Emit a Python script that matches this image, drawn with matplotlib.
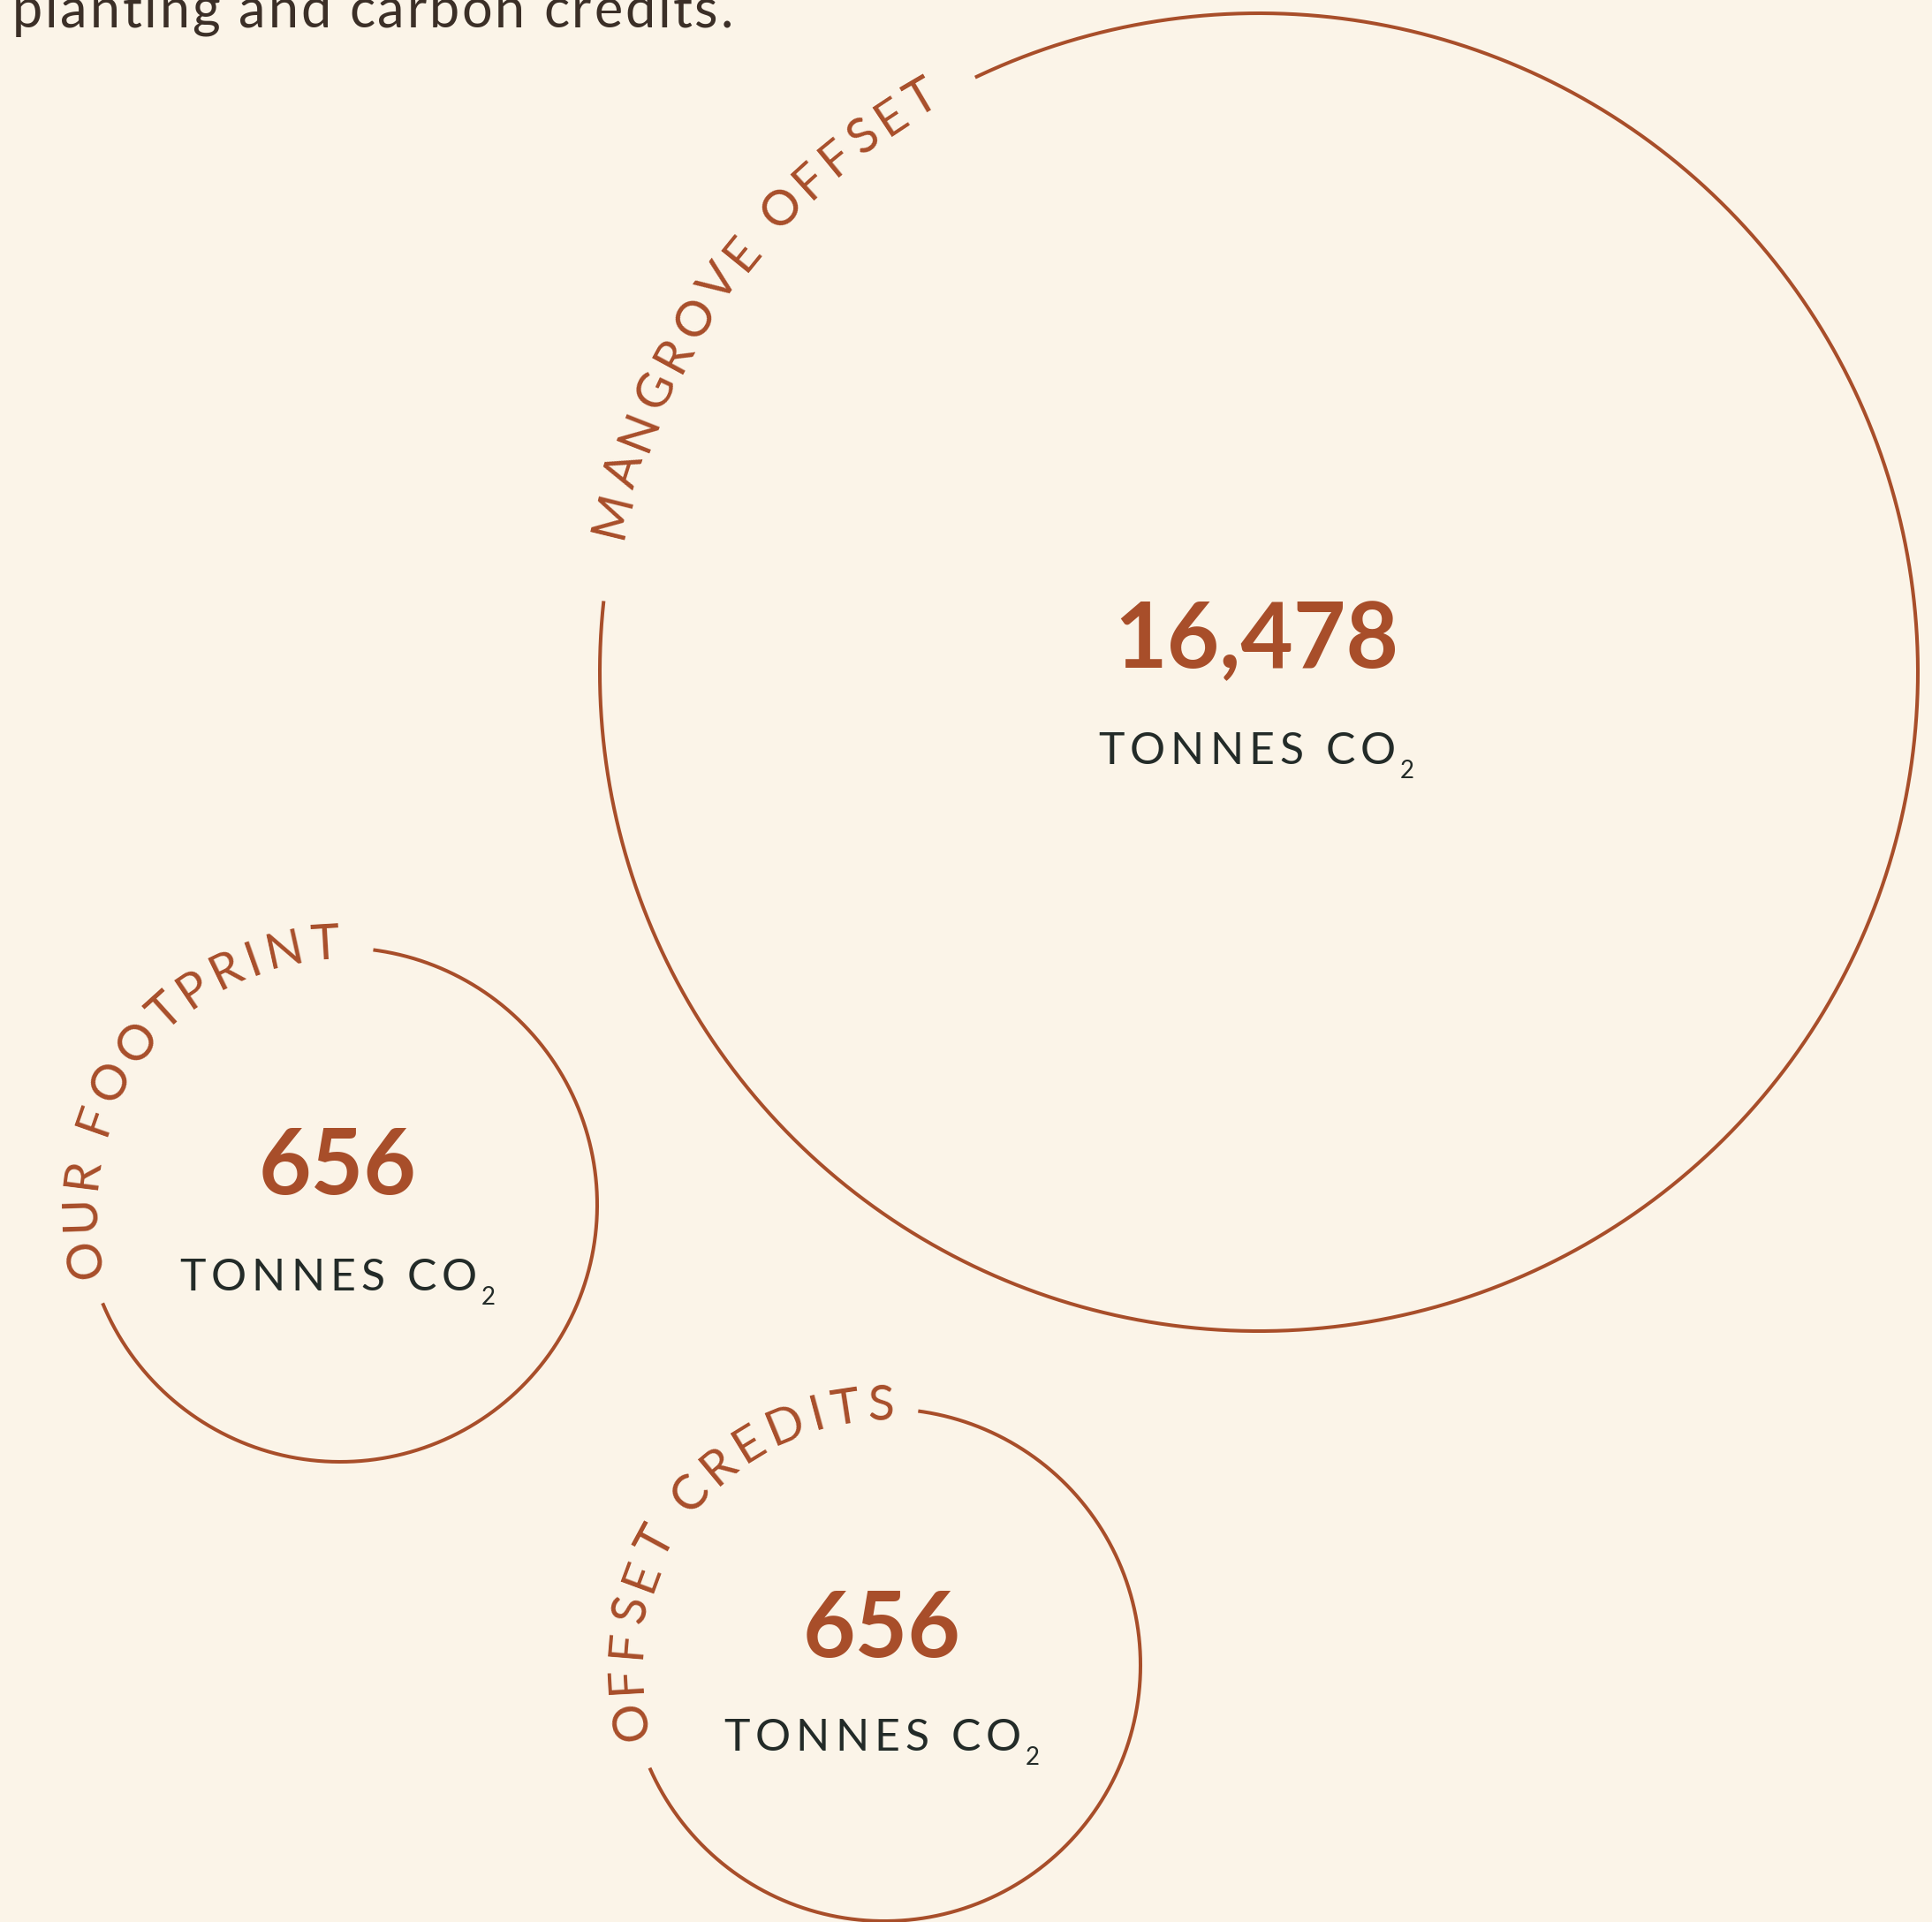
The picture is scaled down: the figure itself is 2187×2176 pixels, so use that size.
import numpy as np
import matplotlib
matplotlib.use('Agg')
import matplotlib.pyplot as plt
from matplotlib.font_manager import FontProperties
from matplotlib.textpath import text_to_path

W, H = 2187, 2176
DPI = 100
PX = DPI / 72.0  # pixels per point

BG = '#fbf4e8'
RUST = '#a84e2a'
INK = '#232b28'
BODY = '#3b2f27'

# data
labels = ['MANGROVE OFFSET', 'OUR FOOTPRINT', 'OFFSET CREDITS']
values = [16478, 656, 656]
unit = 'TONNES CO'
unit_sub = '2'
intro_line = 'planting and carbon credits.'

# layout, pixels with y measured from the top
centers_x = [1425, 385, 1001]
centers_y = [761, 1364, 1885]
radii = [746, 291, 290]
gap_from = [115.5, 82.6, 82.4]     # degrees, ccw from +x
gap_to = [173.8, 202.5, 203.7]
text_start = [168.3, 196.4, 197.0]
text_end = [119.2, 90.0, 87.6]
base_inset = [9, 13, 13]
num_dy = [-5, -12, -9]
unit_dy = [104, 97, 97]

fp_label = FontProperties(family='Lato', size=40)
fp_num = FontProperties(family='Lato', weight='bold', size=74)
fp_unit = FontProperties(family='Lato', size=36)
fp_sub = FontProperties(family='Lato', size=20)
fp_body = FontProperties(family='Lato', size=44)


def adv(s, fp):
    # advance width in pixels
    w0 = text_to_path.get_text_width_height_descent('II', fp, ismath=False)[0]
    w1 = text_to_path.get_text_width_height_descent('I' + s + 'I', fp, ismath=False)[0]
    return (w1 - w0) * PX


def arc_text(ax, cx, cy, rb, s, th0, th1, fp, color):
    advs = [adv(c, fp) for c in s]
    span = np.radians(th0 - th1) * rb
    track = (span - sum(advs)) / (len(s) - 1)
    pos = 0.0
    for c, a in zip(s, advs):
        th = th0 - np.degrees((pos + a / 2) / rb)
        t = np.radians(th)
        ax.text(cx + rb * np.cos(t), cy - rb * np.sin(t), c, fontproperties=fp,
                color=color, rotation=th - 90, rotation_mode='anchor',
                ha='center', va='baseline')
        pos += a + track


def spaced(ax, x0, y, s, fp, track, color):
    pos = x0
    for c in s:
        a = adv(c, fp)
        ax.text(pos + a / 2, y, c, fontproperties=fp, color=color,
                ha='center', va='baseline')
        pos += a + track
    return pos - track


fig = plt.figure(figsize=(W / DPI, H / DPI), dpi=DPI, facecolor=BG)
ax = fig.add_axes([0, 0, 1, 1])
ax.set_facecolor(BG)
ax.set_xlim(0, W)
ax.set_ylim(H, 0)
ax.axis('off')

# intro line, cut at the top like the source page
body_advs = [adv(c, fp_body) for c in intro_line]
body_track = (816 - sum(body_advs)) / (len(intro_line) - 1)
spaced(ax, 14, 31, intro_line, fp_body, body_track, BODY)

unit_advs = [adv(c, fp_unit) for c in unit]
unit_track = (337 - sum(unit_advs)) / (len(unit) - 1)
unit_w = sum(unit_advs) + unit_track * (len(unit) - 1)
sub_gap = 5
sub_w = adv(unit_sub, fp_sub)

for i in range(len(labels)):
    cx, cy, r = centers_x[i], centers_y[i], radii[i]
    t = np.radians(np.linspace(gap_to[i], gap_from[i] + 360, 600))
    ax.plot(cx + r * np.cos(t), cy - r * np.sin(t), color=RUST, lw=2.9,
            solid_capstyle='butt')

    arc_text(ax, cx, cy, r - base_inset[i], labels[i], text_start[i], text_end[i],
             fp_label, RUST)

    ax.text(cx - 3, cy + num_dy[i], f'{values[i]:,}', fontproperties=fp_num,
            color=RUST, ha='center', va='baseline')

    total = unit_w + sub_gap + sub_w
    x0 = cx - 3 - total / 2
    yb = cy + unit_dy[i]
    xe = spaced(ax, x0, yb, unit, fp_unit, unit_track, INK)
    ax.text(xe + sub_gap, yb + 16, unit_sub, fontproperties=fp_sub, color=INK,
            ha='left', va='baseline')

fig.savefig('out.png', dpi=DPI, facecolor=BG)
